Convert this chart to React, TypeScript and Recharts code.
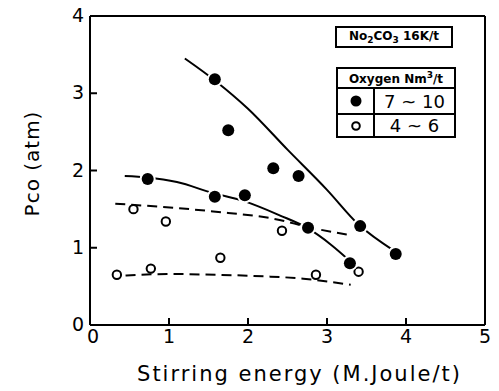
import React from 'react';
import { ComposedChart, Line, Scatter, XAxis, YAxis, ReferenceLine } from 'recharts';

const xTicks = [0, 1, 2, 3, 4, 5];
const yTicks = [0, 1, 2, 3, 4];

// Oxygen 7~10 Nm3/t (filled)
const highOxygen = [
  { x: 0.73, y: 1.89 },
  { x: 1.58, y: 3.18 },
  { x: 1.58, y: 1.66 },
  { x: 1.75, y: 2.52 },
  { x: 1.96, y: 1.68 },
  { x: 2.32, y: 2.03 },
  { x: 2.64, y: 1.93 },
  { x: 2.76, y: 1.26 },
  { x: 3.29, y: 0.8 },
  { x: 3.42, y: 1.28 },
  { x: 3.87, y: 0.92 },
];

// Oxygen 4~6 Nm3/t (open)
const lowOxygen = [
  { x: 0.34, y: 0.65 },
  { x: 0.55, y: 1.5 },
  { x: 0.77, y: 0.73 },
  { x: 0.96, y: 1.34 },
  { x: 1.65, y: 0.87 },
  { x: 2.43, y: 1.22 },
  { x: 2.86, y: 0.65 },
  { x: 3.4, y: 0.69 },
];

// hand drawn trend curves
const curveA = [
  { x: 1.2, y: 3.45 },
  { x: 1.6, y: 3.15 },
  { x: 2.0, y: 2.8 },
  { x: 2.5, y: 2.27 },
  { x: 3.0, y: 1.75 },
  { x: 3.4, y: 1.3 },
  { x: 3.85, y: 0.96 },
];
const curveB = [
  { x: 0.44, y: 1.93 },
  { x: 0.73, y: 1.91 },
  { x: 1.1, y: 1.85 },
  { x: 1.55, y: 1.71 },
  { x: 1.96, y: 1.6 },
  { x: 2.4, y: 1.42 },
  { x: 2.76, y: 1.25 },
  { x: 3.05, y: 1.04 },
  { x: 3.3, y: 0.82 },
];
const curveC = [
  { x: 0.32, y: 1.57 },
  { x: 0.9, y: 1.53 },
  { x: 1.56, y: 1.47 },
  { x: 2.4, y: 1.36 },
  { x: 2.75, y: 1.27 },
  { x: 3.25, y: 1.17 },
];
const curveD = [
  { x: 0.45, y: 0.64 },
  { x: 1.0, y: 0.66 },
  { x: 1.6, y: 0.65 },
  { x: 2.2, y: 0.63 },
  { x: 2.7, y: 0.6 },
  { x: 3.3, y: 0.52 },
];

const font = '"DejaVu Sans", sans-serif';

const XTick = (props: any) => {
  const { x, y, payload } = props;
  const v = payload.value;
  return (
    <g>
      {v > 0 && v < 5 && <line x1={x} y1={y} x2={x} y2={y - 7} stroke="#000" strokeWidth={2} />}
      <text x={x + (v === 0 ? 3 : 0)} y={y + 18} textAnchor="middle" fontSize={19} fontFamily={font} fill="#000">
        {v}
      </text>
    </g>
  );
};

const YTick = (props: any) => {
  const { x, y, payload } = props;
  const v = payload.value;
  return (
    <g>
      {v > 0 && v < 4 && <line x1={x} y1={y} x2={x + 7} y2={y} stroke="#000" strokeWidth={2} />}
      <text x={x - 6} y={y + 6} textAnchor="end" fontSize={19} fontFamily={font} fill="#000">
        {v}
      </text>
    </g>
  );
};

const FilledDot = (props: any) => (
  <circle cx={props.cx} cy={props.cy} r={6} fill="#000" stroke="#fff" strokeWidth={4} paintOrder="stroke" />
);
const OpenDot = (props: any) => (
  <circle cx={props.cx} cy={props.cy} r={4.2} fill="#fff" stroke="#000" strokeWidth={2} />
);

const cell: React.CSSProperties = { display: 'flex', alignItems: 'center', justifyContent: 'center' };

export default function App() {
  return (
    <div style={{ position: 'absolute', left: 0, top: 0, width: 499, height: 391, background: '#fff' }}>
      <ComposedChart width={499} height={391} margin={{ top: 16, right: 14, bottom: 6, left: 0 }}>
        <XAxis
          type="number"
          dataKey="x"
          domain={[0, 5]}
          ticks={xTicks}
          height={60}
          tick={<XTick />}
          tickSize={0}
          tickMargin={0}
          tickLine={false}
          axisLine={{ stroke: '#000', strokeWidth: 2 }}
          allowDataOverflow
          label={{ value: 'Stirring energy (M.Joule/t)', position: 'insideBottom', offset: 4, dx: 12, fontSize: 21, fontFamily: font, fill: '#000', letterSpacing: 2 }}
        />
        <YAxis
          type="number"
          dataKey="y"
          domain={[0, 4]}
          ticks={yTicks}
          width={90}
          tick={<YTick />}
          tickSize={0}
          tickMargin={0}
          tickLine={false}
          axisLine={{ stroke: '#000', strokeWidth: 2 }}
          allowDataOverflow
          label={{ value: 'Pco (atm)', angle: -90, position: 'insideLeft', textAnchor: 'middle', dx: 27, dy: -7, fontSize: 20, fontFamily: font, fill: '#000', letterSpacing: 1 }}
        />
        <ReferenceLine y={4} stroke="#000" strokeWidth={2} />
        <ReferenceLine x={5} stroke="#000" strokeWidth={2} />
        <Line data={curveA} dataKey="y" type="monotone" stroke="#000" strokeWidth={2} dot={false} isAnimationActive={false} />
        <Line data={curveB} dataKey="y" type="monotone" stroke="#000" strokeWidth={2} dot={false} isAnimationActive={false} />
        <Line data={curveC} dataKey="y" type="monotone" stroke="#000" strokeWidth={2} strokeDasharray="10 6" dot={false} isAnimationActive={false} />
        <Line data={curveD} dataKey="y" type="monotone" stroke="#000" strokeWidth={2} strokeDasharray="10 6" dot={false} isAnimationActive={false} />
        <Scatter data={lowOxygen} dataKey="y" shape={<OpenDot />} isAnimationActive={false} />
        <Scatter data={highOxygen} dataKey="y" shape={<FilledDot />} isAnimationActive={false} />
      </ComposedChart>

      <div
        style={{
          position: 'absolute', left: 335, top: 26, width: 118, height: 22, boxSizing: 'border-box',
          border: '2px solid #000', fontFamily: font, fontSize: 12, fontWeight: 'bold', ...cell,
        }}
      >
        <span>No<sub style={{ fontSize: 9 }}>2</sub>CO<sub style={{ fontSize: 9 }}>3</sub> 16K/t</span>
      </div>

      <div
        style={{
          position: 'absolute', left: 336, top: 67, width: 120, height: 71, boxSizing: 'border-box',
          border: '2px solid #000', fontFamily: font, display: 'flex', flexDirection: 'column',
        }}
      >
        <div style={{ height: 19, borderBottom: '2px solid #000', fontSize: 12, fontWeight: 'bold', ...cell }}>
          <span>Oxygen Nm<sup style={{ fontSize: 9 }}>3</sup>/t</span>
        </div>
        <div style={{ height: 25, borderBottom: '2px solid #000', display: 'flex' }}>
          <div style={{ width: 35, borderRight: '2px solid #000', ...cell }}>
            <svg width={14} height={14}><circle cx={7} cy={7} r={5.5} fill="#000" /></svg>
          </div>
          <div style={{ flex: 1, fontSize: 18, ...cell }}>7 ~ 10</div>
        </div>
        <div style={{ flex: 1, display: 'flex' }}>
          <div style={{ width: 35, borderRight: '2px solid #000', ...cell }}>
            <svg width={14} height={14}><circle cx={7} cy={7} r={3.8} fill="#fff" stroke="#000" strokeWidth={2} /></svg>
          </div>
          <div style={{ flex: 1, fontSize: 18, ...cell }}>4 ~ 6</div>
        </div>
      </div>
    </div>
  );
}
